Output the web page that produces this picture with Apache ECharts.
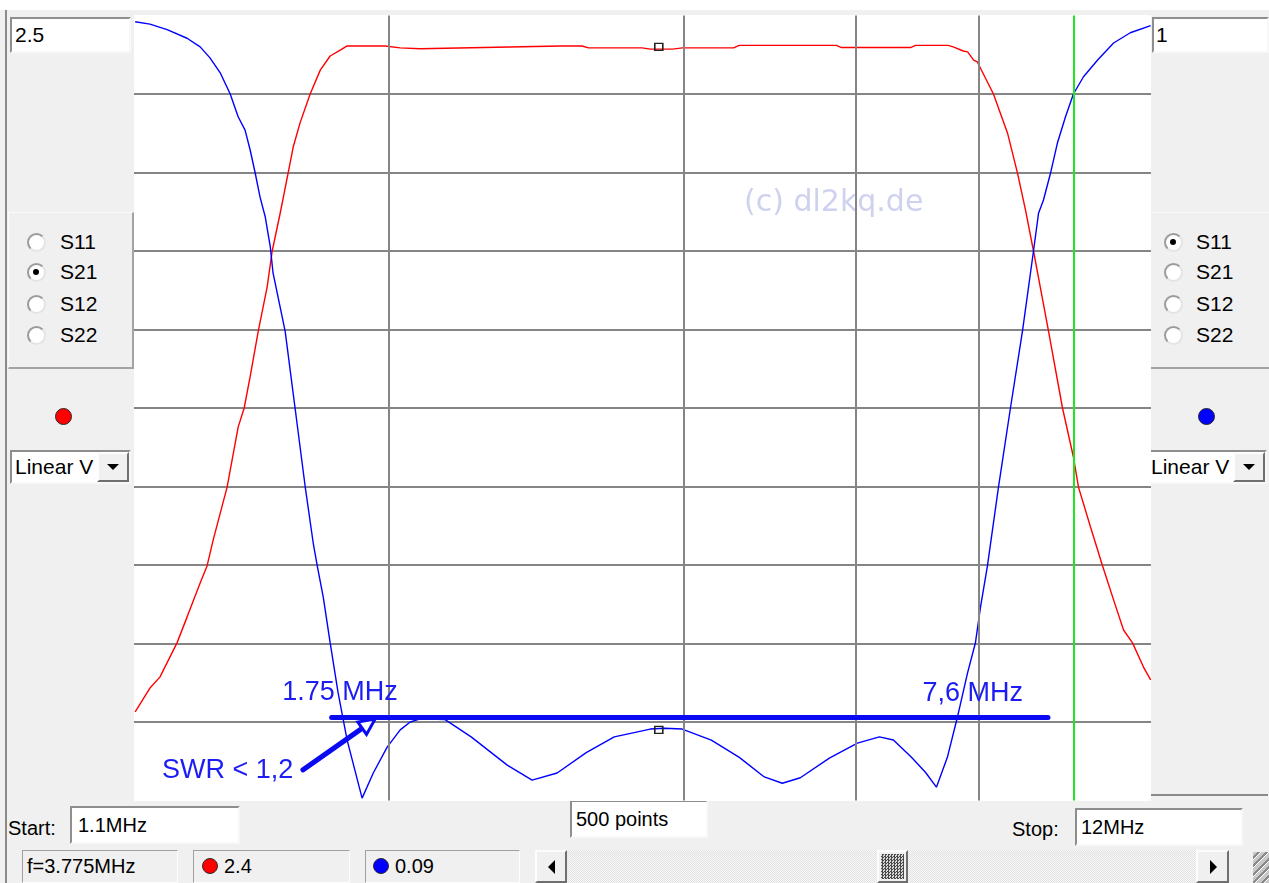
<!DOCTYPE html>
<html>
<head>
<meta charset="utf-8">
<title>S21 / S11 sweep 1.1 – 12 MHz</title>
<script src="https://cdn.jsdelivr.net/npm/echarts@6.0.0/dist/echarts.min.js"></script>
<style>
  html, body { margin:0; padding:0; }
  body { width:1269px; height:883px; overflow:hidden; position:relative; background:#f0f0f0;
         font-family:"Liberation Sans", Arial, sans-serif; color:#000; }
  .a { position:absolute; box-sizing:border-box; }
  .edit { position:absolute; box-sizing:border-box; background:#fff; border:2px solid;
          border-color:#8e8e8e #f8f8f8 #f8f8f8 #8e8e8e; font-size:21px; white-space:nowrap; }
  .txt { position:absolute; font-size:21px; white-space:nowrap; line-height:24px; height:24px; }
  .radio { position:absolute; width:19px; height:19px; border-radius:50%; background:#fff; box-sizing:border-box;
           border:2px solid; border-color:#9b9b9b #e4e4e4 #e4e4e4 #9b9b9b; }
  .radio.on::after { content:""; position:absolute; left:4.5px; top:4.5px; width:6px; height:6px;
                     border-radius:50%; background:#000; }
  .dot { position:absolute; border-radius:50%; box-sizing:border-box; border:1px solid #2a2a2a; }
  .btn { position:absolute; box-sizing:border-box; background:#f0f0f0; border:2px solid;
         border-color:#fdfdfd #6f6f6f #6f6f6f #fdfdfd; }
  .tri-down { position:absolute; left:50%; top:50%; margin-left:-6px; margin-top:-3px; width:0; height:0;
              border-left:6px solid transparent; border-right:6px solid transparent; border-top:6px solid #000; }
  .tri-left { position:absolute; left:50%; top:50%; margin-left:-3px; margin-top:-7px; width:0; height:0;
              border-top:7px solid transparent; border-bottom:7px solid transparent; border-right:7px solid #000; }
  .tri-right { position:absolute; left:50%; top:50%; margin-left:-3px; margin-top:-7px; width:0; height:0;
               border-top:7px solid transparent; border-bottom:7px solid transparent; border-left:7px solid #000; }
  .status { position:absolute; box-sizing:border-box; border:1px solid; border-color:#a0a0a0 #fdfdfd #fdfdfd #a0a0a0;
            font-size:20px; line-height:31px; height:33px; top:850px; white-space:nowrap; }
  .group { position:absolute; box-sizing:border-box; border-style:solid; border-width:1px 2px 2px 1px;
           border-color:#fafafa #a3a3a3 #a3a3a3 #fafafa; }
  #plot { position:absolute; left:134px; top:15px; width:1017px; height:786px; }
</style>
</head>
<body>
<!-- window frame -->
<div class="a" style="left:0;top:0;width:1269px;height:10px;background:#fff;"></div>
<div class="a" style="left:5px;top:10px;width:2px;height:873px;background:#8a8a8a;"></div>

<!-- left trace panel (S21, red) -->
<div class="edit" style="left:10px;top:17px;width:121px;height:36px;line-height:32px;padding-left:3px;">2.5</div>
<div class="group" style="left:8px;top:212px;width:126px;height:157px;"></div>
<div id="leftRadios"></div>
<div class="dot" style="left:55px;top:408px;width:17px;height:17px;background:#ff0000;"></div>
<div class="edit" style="left:10px;top:450px;width:121px;height:34px;line-height:30px;padding-left:3px;">Linear V</div>
<div class="btn" style="left:97px;top:452px;width:32px;height:30px;"><div class="tri-down"></div></div>

<!-- right trace panel (S11, blue) -->
<div class="edit" style="left:1152px;top:17px;width:117px;height:36px;line-height:32px;padding-left:2px;">1</div>
<div class="group" style="left:1150px;top:212px;width:119px;height:157px;border-right:none;"></div>
<div id="rightRadios"></div>
<div class="dot" style="left:1198px;top:408px;width:17px;height:17px;background:#0000ff;"></div>
<div class="edit" style="left:1150px;top:450px;width:117px;height:34px;line-height:30px;padding-left:1px;border-left:none;">Linear V</div>
<div class="btn" style="left:1233px;top:452px;width:32px;height:30px;"><div class="tri-down"></div></div>
<div class="a" style="left:1150px;top:794px;width:118px;height:2px;background:#8a8a8a;"></div>

<!-- sweep settings -->
<div class="txt" style="left:8px;top:816px;font-size:20px;">Start:</div>
<div class="edit" id="startBox" style="left:70px;top:806px;width:170px;height:38px;line-height:34px;padding-left:6px;font-size:20px;"></div>
<div class="edit" id="pointsBox" style="left:570px;top:800px;width:138px;height:38px;line-height:34px;padding-left:4px;font-size:20px;"></div>
<div class="txt" style="left:1012px;top:817px;font-size:20px;">Stop:</div>
<div class="edit" id="stopBox" style="left:1075px;top:808px;width:168px;height:38px;line-height:34px;padding-left:4px;font-size:20px;"></div>

<!-- status bar -->
<div class="status" id="freqStatus" style="left:22px;width:156px;padding-left:4px;"></div>
<div class="status" style="left:193px;width:157px;padding-left:30px;" id="redStatus"></div>
<div class="dot" style="left:202px;top:858px;width:16px;height:16px;background:#ff0000;"></div>
<div class="status" style="left:365px;width:155px;padding-left:29px;" id="blueStatus"></div>
<div class="dot" style="left:373px;top:858px;width:16px;height:16px;background:#0000ff;"></div>

<!-- scrollbar -->
<div class="a" style="left:535px;top:850px;width:694px;height:33px;background-color:#f3f3f3;
     background-image:repeating-conic-gradient(#e2e2e2 0 25%, #f7f7f7 0 50%);background-size:2px 2px;"></div>
<div class="btn" style="left:535px;top:850px;width:32px;height:33px;"><div class="tri-left"></div></div>
<div class="btn" style="left:877px;top:850px;width:31px;height:33px;padding:2px;">
  <div style="width:100%;height:100%;background-image:repeating-conic-gradient(#4a4a4a 0 25%, #d8d8d8 0 50%);background-size:3px 3px;"></div>
</div>
<div class="btn" style="left:1196px;top:850px;width:33px;height:33px;"><div class="tri-right"></div></div>
<div class="a" style="left:1253px;top:852px;width:16px;height:31px;
     background:repeating-linear-gradient(135deg, #c8c8c8 0 3px, #8a8a8a 3px 5px, #ffffff 5px 6px);"></div>

<div id="plot"></div>

<script>
// Sweep setup
const FREQ_START = 1.1;      // MHz
const FREQ_STOP = 12;        // MHz
const SWEEP_POINTS = 500;
const GRID_FREQS = [2, 4, 6, 8];   // vertical grid lines, MHz
const CURSOR_FREQ = 10;            // green cursor line, MHz

// Left scale: |S21| linear, 0..2.5 ; right scale: |S11| linear, 0..1
const S21_SCALE_MAX = 2.5;
const S11_SCALE_MAX = 1;

// Marker readout
const MARKER_F = 3.775;
const MARKER_S21 = 2.4;
const MARKER_S11 = 0.09;

// SWR < 1.2 band annotation
const SWR_LEVEL = 0.106;     // on the S11 scale
const BAND_LO = 1.75;
const BAND_LINE_END = 9.42;
const BAND_LABEL_LO = '1.75 MHz';
const BAND_LABEL_HI = '7,6 MHz';
const SWR_LABEL = 'SWR < 1,2';

// S21 (red), magnitude vs frequency in MHz
const s21Freq = [1.103, 1.142, 1.169, 1.217, 1.246, 1.285, 1.306, 1.325, 1.369, 1.405, 1.425, 1.445,
  1.473, 1.504, 1.522, 1.551, 1.580, 1.599, 1.625, 1.664, 1.704, 1.744, 1.786, 1.815, 1.985, 2.056,
  2.155, 2.994, 3.153, 3.20, 3.63, 3.70, 3.90, 3.99, 4.50, 4.56, 5.73, 5.80, 6.82, 6.90, 7.45, 7.54,
  7.72, 7.80, 7.91, 7.98, 8.287, 8.565, 8.769, 8.935, 9.105, 9.432, 9.747, 10.00, 10.12, 10.41, 10.71,
  10.99, 11.25, 11.49, 11.79, 11.99];
const s21Mag = [0.282, 0.358, 0.393, 0.502, 0.584, 0.693, 0.747, 0.830, 0.998, 1.189, 1.250, 1.349,
  1.495, 1.635, 1.750, 1.871, 1.998, 2.081, 2.158, 2.250, 2.326, 2.371, 2.390, 2.403, 2.403, 2.397,
  2.394, 2.403, 2.403, 2.397, 2.397, 2.393, 2.393, 2.397, 2.397, 2.405, 2.405, 2.398, 2.398, 2.405, 2.405, 2.400,
  2.387, 2.384, 2.358, 2.352, 2.250, 2.126, 1.998, 1.881, 1.750, 1.495, 1.250, 1.094, 0.998, 0.871, 0.747,
  0.639, 0.543, 0.502, 0.425, 0.384];

// S11 (blue), magnitude vs frequency in MHz
const s11Freq = [1.103, 1.142, 1.189, 1.246, 1.285, 1.315, 1.347, 1.379, 1.405, 1.428, 1.445, 1.462,
  1.479, 1.497, 1.515, 1.525, 1.569, 1.606, 1.645, 1.676, 1.692, 1.716, 1.744, 1.777, 1.815, 1.880,
  1.930, 1.994, 2.056, 2.105, 2.155, 2.285, 2.429, 2.644, 2.803, 2.973, 3.183, 3.400, 3.700, 3.823,
  3.988, 4.271, 4.561, 4.837, 5.046, 5.264, 5.636, 6.020, 6.339, 6.551, 6.835, 7.063, 7.248, 7.437,
  7.614, 7.796, 7.944, 8.038, 8.171, 8.385, 8.625, 8.872, 9.105, 9.213, 9.321, 9.476, 9.633, 9.816,
  10.00, 10.24, 10.58, 10.99, 11.43, 11.99];
const s11Mag = [0.992, 0.989, 0.982, 0.971, 0.960, 0.946, 0.927, 0.900, 0.871, 0.854, 0.829, 0.800,
  0.769, 0.744, 0.706, 0.672, 0.598, 0.500, 0.399, 0.328, 0.299, 0.259, 0.201, 0.137, 0.077, 0.003,
  0.035, 0.068, 0.090, 0.100, 0.104, 0.103, 0.081, 0.045, 0.026, 0.035, 0.061, 0.081, 0.091, 0.092,
  0.091, 0.077, 0.055, 0.030, 0.022, 0.029, 0.054, 0.073, 0.081, 0.077, 0.055, 0.036, 0.017, 0.055,
  0.106, 0.162, 0.201, 0.246, 0.299, 0.399, 0.500, 0.598, 0.700, 0.748, 0.765, 0.799, 0.838, 0.871,
  0.900, 0.922, 0.943, 0.965, 0.978, 0.987];

// Annotation arrow (S11 scale): shaft from the SWR label towards the band line
const arrowFreq = [1.636, 1.8875, 1.9094];   // shaft start, shaft end, head centre
const arrowMag = [0.039, 0.0935, 0.098];

const PARAMS = ['S11', 'S21', 'S12', 'S22'];

// ---- panel widgets ----
function radioGroup(host, x, labelX, selected) {
  const yc = [242, 272, 304, 335];
  let html = '';
  PARAMS.forEach((p, i) => {
    html += '<div class="radio' + (p === selected ? ' on' : '') + '" style="left:' + (x - 9.5) + 'px;top:' + (yc[i] - 9.5) + 'px;"></div>';
    html += '<div class="txt" style="left:' + labelX + 'px;top:' + (yc[i] - 12) + 'px;">' + p + '</div>';
  });
  document.getElementById(host).innerHTML = html;
}
radioGroup('leftRadios', 36, 60, 'S21');
radioGroup('rightRadios', 1173, 1196, 'S11');

document.getElementById('startBox').textContent = FREQ_START + 'MHz';
document.getElementById('stopBox').textContent = FREQ_STOP + 'MHz';
document.getElementById('pointsBox').textContent = SWEEP_POINTS + ' points';
document.getElementById('freqStatus').textContent = 'f=' + MARKER_F + 'MHz';
document.getElementById('redStatus').textContent = String(MARKER_S21);
document.getElementById('blueStatus').textContent = String(MARKER_S11);

// ---- plot ----
const zip = (xs, ys) => xs.map((x, i) => [x, ys[i]]);
const GRID_GRAY = '#858585';
const ANNOT_BLUE = '#0a0af2';
const LABEL_BLUE = '#1c1cf4';
const labelFont = { fontFamily: '"Liberation Sans", Arial, sans-serif', fontSize: 27, color: LABEL_BLUE };

function textPoint(f, v, text) {
  return {
    coord: [f, v], symbol: 'circle', symbolSize: 0,
    label: Object.assign({ show: true, formatter: text, position: 'inside', align: 'left', verticalAlign: 'middle' }, labelFont)
  };
}

const chart = echarts.init(document.getElementById('plot'), null, { renderer: 'canvas' });
chart.setOption({
  animation: false,
  backgroundColor: '#ffffff',
  grid: { left: 0, right: 0, top: 0.5, bottom: 0.5 },
  xAxis: {
    type: 'log', logBase: 10, min: FREQ_START, max: FREQ_STOP,
    axisLine: { show: false }, axisTick: { show: false }, axisLabel: { show: false },
    splitLine: { show: false }, minorSplitLine: { show: false }
  },
  yAxis: [
    {
      type: 'value', min: 0, max: S21_SCALE_MAX, interval: S21_SCALE_MAX / 10,
      axisLine: { show: false }, axisTick: { show: false }, axisLabel: { show: false },
      splitLine: { show: true, showMinLine: false, showMaxLine: false, lineStyle: { color: GRID_GRAY, width: 2 } }
    },
    {
      type: 'value', min: 0, max: S11_SCALE_MAX, interval: S11_SCALE_MAX / 10,
      axisLine: { show: false }, axisTick: { show: false }, axisLabel: { show: false },
      splitLine: { show: false }
    }
  ],
  graphic: [{
    type: 'text', x: 610, y: 188, silent: true, z: 0,
    style: { text: '(c) dl2kq.de', font: '30px "DejaVu Sans", sans-serif', fill: '#cfd2ee',
             align: 'left', verticalAlign: 'middle' }
  }],
  series: [
    {
      name: 'grid', type: 'line', data: [], z: 1, silent: true,
      markLine: {
        silent: true, symbol: ['none', 'none'], label: { show: false }, animation: false,
        data: GRID_FREQS.map(f => ({ xAxis: f, lineStyle: { color: GRID_GRAY, width: 2, type: 'solid' } }))
          .concat([{ xAxis: CURSOR_FREQ, lineStyle: { color: '#1ee61e', width: 2, type: 'solid' } }])
      }
    },
    {
      name: 'S21', type: 'line', yAxisIndex: 0, data: zip(s21Freq, s21Mag), z: 3,
      showSymbol: false, smooth: false, lineStyle: { color: '#ff0000', width: 1.4 },
      markPoint: {
        silent: true, symbol: 'rect', symbolSize: [8, 7], label: { show: false },
        itemStyle: { color: 'rgba(0,0,0,0)', borderColor: '#222', borderWidth: 1.5 },
        data: [{ coord: [MARKER_F, MARKER_S21] }]
      }
    },
    {
      name: 'S11', type: 'line', yAxisIndex: 1, data: zip(s11Freq, s11Mag), z: 3,
      showSymbol: false, smooth: false, lineStyle: { color: '#0000ff', width: 1.4 },
      markPoint: {
        silent: true, symbol: 'rect', symbolSize: [8, 7], label: { show: false },
        itemStyle: { color: 'rgba(0,0,0,0)', borderColor: '#222', borderWidth: 1.5 },
        data: [{ coord: [MARKER_F, MARKER_S11] }]
      }
    },
    {
      name: 'annotation', type: 'line', yAxisIndex: 1, data: [], z: 4, silent: true,
      markLine: {
        silent: true, symbol: ['none', 'none'], label: { show: false }, animation: false,
        lineStyle: { color: ANNOT_BLUE, width: 5, type: 'solid', cap: 'round' },
        data: [
          [{ coord: [BAND_LO, SWR_LEVEL] }, { coord: [BAND_LINE_END, SWR_LEVEL] }],
          [{ coord: [arrowFreq[0], arrowMag[0]] }, { coord: [arrowFreq[1], arrowMag[1]] }]
        ]
      },
      markPoint: {
        silent: true, z: 10,
        data: [
          {
            coord: [arrowFreq[2], arrowMag[2]], symbol: 'triangle', symbolSize: [15, 16], symbolRotate: -54.5,
            itemStyle: { color: '#ffffff', borderColor: ANNOT_BLUE, borderWidth: 3 }, label: { show: false }
          },
          textPoint(1.558, 0.137, BAND_LABEL_LO),
          textPoint(7.015, 0.136, BAND_LABEL_HI),
          textPoint(1.175, 0.0376, SWR_LABEL)
        ]
      }
    }
  ]
});
</script>
</body>
</html>
